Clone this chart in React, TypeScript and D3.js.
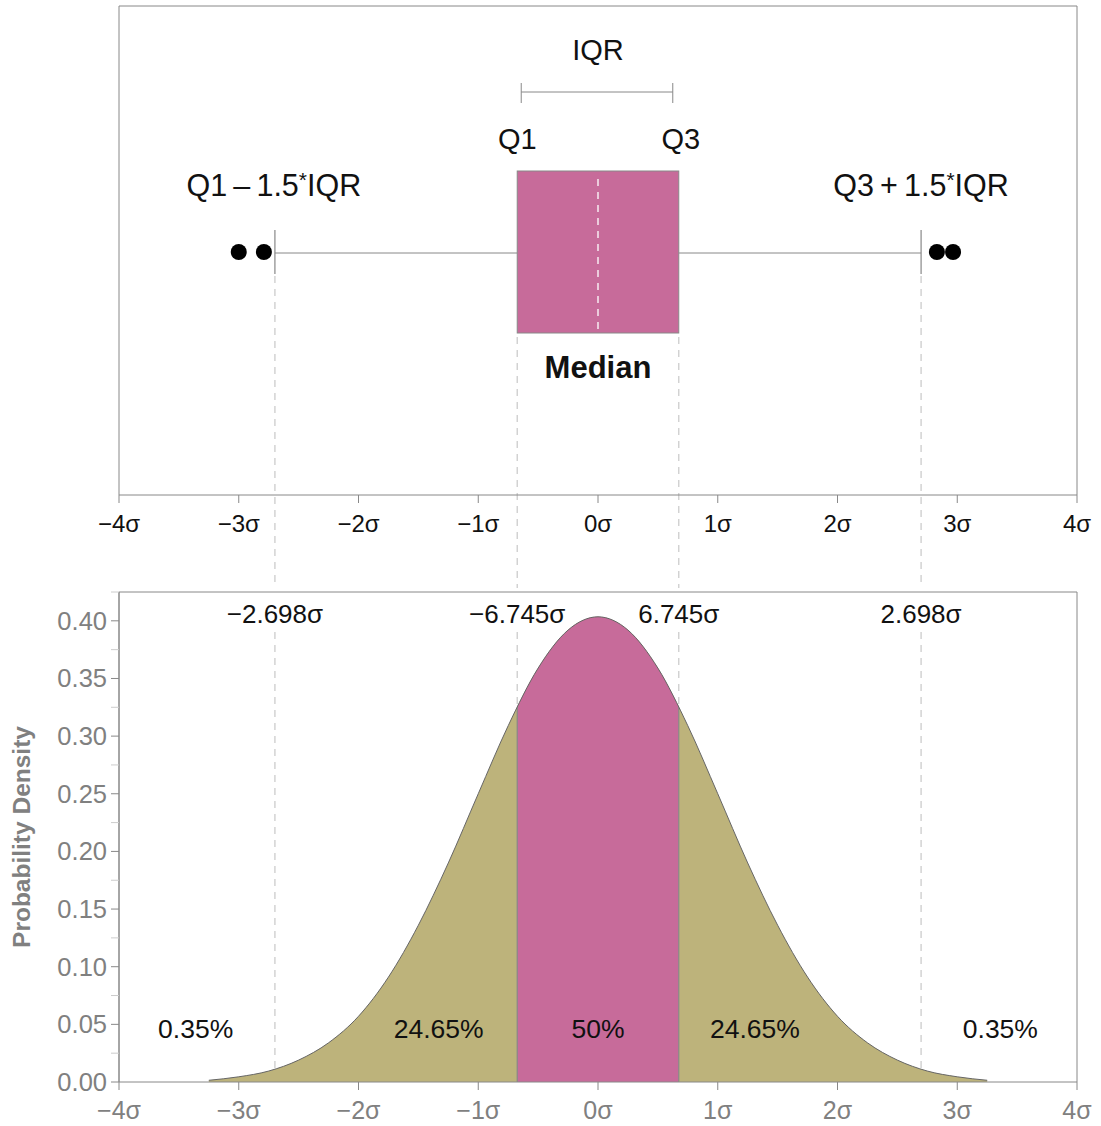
import React from "react";
import * as d3 from "d3";

// ---- data ----
const sigmaTicks = [-4, -3, -2, -1, 0, 1, 2, 3, 4];
const densityTicks = [0, 0.05, 0.1, 0.15, 0.2, 0.25, 0.3, 0.35, 0.4];
const densityMinorTicks = [0.025, 0.075, 0.125, 0.175, 0.225, 0.275, 0.325, 0.375, 0.425];
const curveX = [-3.25, -3, -2.75, -2.5, -2.25, -2, -1.75, -1.5, -1.25, -1, -0.75, -0.5, -0.25, 0, 0.25, 0.5, 0.75, 1, 1.25, 1.5, 1.75, 2, 2.25, 2.5, 2.75, 3, 3.25];
const curveY = [0.0015, 0.0045, 0.0095, 0.019, 0.034, 0.057, 0.091, 0.136, 0.19, 0.25, 0.309, 0.359, 0.392, 0.4035, 0.392, 0.359, 0.309, 0.25, 0.19, 0.136, 0.091, 0.057, 0.034, 0.019, 0.0095, 0.0045, 0.0015];
const q1 = -0.6745;
const median = 0;
const q3 = 0.6745;
const whiskerLow = -2.698;
const whiskerHigh = 2.698;
const outliers = [-3.0, -2.79, 2.83, 2.965];
const markerX = [-2.698, -0.6745, 0.6745, 2.698];
const markerLabels = ["\u22122.698\u03c3", "\u22126.745\u03c3", "6.745\u03c3", "2.698\u03c3"];
const pctX = [-3.36, -1.33, 0, 1.31, 3.36];
const pctLabels = ["0.35%", "24.65%", "50%", "24.65%", "0.35%"];

const W = 1101;
const H = 1126;
const L = 119;
const R = 1077;
const topT = 6;
const topB = 495;
const botT = 592;
const botB = 1082;
const boxTop = 171;
const boxBot = 333;
const boxMid = 253;

const FONT = "'Liberation Sans', Arial, Helvetica, sans-serif";
const PINK = "#c76b9a";
const OLIVE = "#bdb37b";
const FRAME = "#888888";
const DASH = "#cccccc";

function sigmaLabel(v: number) {
  return (v < 0 ? "\u2212" + Math.abs(v) : String(v)) + "\u03c3";
}

export default function App() {
  const x = d3.scaleLinear().domain([-4, 4]).range([L, R]);
  const y = d3.scaleLinear().domain([0, 0.425]).range([botB, botT]);
  const pts = curveX.map((v, i) => [v, curveY[i]] as [number, number]);
  const area = d3
    .area<[number, number]>()
    .x((d) => x(d[0]))
    .y0(y(0))
    .y1((d) => y(d[1]))
    .curve(d3.curveMonotoneX)(pts) as string;
  const line = d3
    .line<[number, number]>()
    .x((d) => x(d[0]))
    .y((d) => y(d[1]))
    .curve(d3.curveMonotoneX)(pts) as string;

  return (
    <svg
      width={W}
      height={H}
      style={{ position: "absolute", left: 0, top: 0, background: "#fff" }}
      fontFamily={FONT}
    >
      <defs>
        <clipPath id="areaClip">
          <path d={area} />
        </clipPath>
        <clipPath id="iqrClip">
          <rect x={x(q1)} y={botT} width={x(q3) - x(q1)} height={botB - botT} />
        </clipPath>
      </defs>

      {/* ---- top panel frame ---- */}
      <path
        d={`M${L},${topB}V${topT}H${R}V${topB}`}
        fill="none"
        stroke={FRAME}
        strokeWidth={1}
      />

      {/* dashed guide lines */}
      {[whiskerLow, whiskerHigh].map((v, i) => (
        <g key={"dw" + i}>
          <line x1={x(v)} x2={x(v)} y1={276} y2={588} stroke={DASH} strokeWidth={1.3} strokeDasharray="7,6" />
          <line x1={x(v)} x2={x(v)} y1={632} y2={botB} stroke={DASH} strokeWidth={1.3} strokeDasharray="7,6" />
        </g>
      ))}
      {[q1, q3].map((v, i) => (
        <g key={"dq" + i}>
          <line x1={x(v)} x2={x(v)} y1={boxBot + 4} y2={588} stroke={DASH} strokeWidth={1.3} strokeDasharray="7,6" />
          <line x1={x(v)} x2={x(v)} y1={632} y2={botB} stroke={DASH} strokeWidth={1.3} strokeDasharray="7,6" />
        </g>
      ))}

      {/* whiskers */}
      <line x1={x(whiskerLow)} x2={x(q1)} y1={boxMid} y2={boxMid} stroke={FRAME} strokeWidth={1} />
      <line x1={x(q3)} x2={x(whiskerHigh)} y1={boxMid} y2={boxMid} stroke={FRAME} strokeWidth={1} />
      {[whiskerLow, whiskerHigh].map((v, i) => (
        <line key={"cap" + i} x1={x(v)} x2={x(v)} y1={230} y2={274} stroke={FRAME} strokeWidth={1.2} />
      ))}

      {/* box */}
      <rect
        x={x(q1)}
        y={boxTop}
        width={x(q3) - x(q1)}
        height={boxBot - boxTop}
        fill={PINK}
        stroke={FRAME}
        strokeWidth={1}
      />
      <line
        x1={x(median)}
        x2={x(median)}
        y1={boxTop + 8}
        y2={boxBot - 4}
        stroke="#ffffff"
        strokeWidth={1.3}
        strokeDasharray="7,6"
      />

      {/* outliers */}
      {outliers.map((v, i) => (
        <circle key={"o" + i} cx={x(v)} cy={boxMid - 1} r={8} fill="#000" />
      ))}

      {/* IQR bracket */}
      <line x1={x(q1) + 4} x2={x(q3) - 6} y1={92} y2={92} stroke={FRAME} strokeWidth={1} />
      <line x1={x(q1) + 4} x2={x(q1) + 4} y1={83} y2={103} stroke={FRAME} strokeWidth={1} />
      <line x1={x(q3) - 6} x2={x(q3) - 6} y1={83} y2={103} stroke={FRAME} strokeWidth={1} />

      {/* annotations */}
      <text x={x(median)} y={60} textAnchor="middle" fontSize={29} fill="#111">IQR</text>
      <text x={x(q1)} y={149} textAnchor="middle" fontSize={29} fill="#111">Q1</text>
      <text x={x(q3) + 2} y={149} textAnchor="middle" fontSize={29} fill="#111">Q3</text>
      <text x={x(whiskerLow) - 1} y={196} textAnchor="middle" fontSize={30.5} fill="#111">
        Q1{"\u2009"}–{"\u2009"}1.5<tspan fontSize={21} dy={-9}>*</tspan>
        <tspan dy={9}>IQR</tspan>
      </text>
      <text x={x(whiskerHigh)} y={196} textAnchor="middle" fontSize={30.5} fill="#111">
        Q3{"\u2009"}+{"\u2009"}1.5<tspan fontSize={21} dy={-9}>*</tspan>
        <tspan dy={9}>IQR</tspan>
      </text>
      <text x={x(median)} y={378} textAnchor="middle" fontSize={31} fontWeight="bold" fill="#111">
        Median
      </text>

      {/* top axis */}
      <line x1={L} x2={R} y1={topB} y2={topB} stroke={FRAME} strokeWidth={1} />
      {sigmaTicks.map((t) => (
        <g key={"tt" + t}>
          <line x1={x(t)} x2={x(t)} y1={topB} y2={topB + 8} stroke={FRAME} strokeWidth={1} />
          <text x={x(t)} y={topB + 37} textAnchor="middle" fontSize={24} fill="#111">
            {sigmaLabel(t)}
          </text>
        </g>
      ))}

      {/* ---- bottom panel ---- */}
      <path d={area} fill={OLIVE} />
      <path d={area} fill={PINK} clipPath="url(#iqrClip)" />
      <g clipPath="url(#areaClip)">
        {[q1, q3].map((v, i) => (
          <line key={"qe" + i} x1={x(v)} x2={x(v)} y1={botT} y2={botB} stroke={FRAME} strokeWidth={1.2} />
        ))}
      </g>
      <path d={line} fill="none" stroke="#666" strokeWidth={1} />

      <path d={`M${L},${botB}V${botT}H${R}V${botB}`} fill="none" stroke={FRAME} strokeWidth={1} />

      {markerX.map((v, i) => (
        <text key={"ml" + i} x={x(v)} y={623} textAnchor="middle" fontSize={26} fill="#111">
          {markerLabels[i]}
        </text>
      ))}
      {pctX.map((v, i) => (
        <text key={"pl" + i} x={x(v)} y={1038} textAnchor="middle" fontSize={26.5} fill="#111">
          {pctLabels[i]}
        </text>
      ))}

      {/* bottom x axis */}
      <line x1={L} x2={R} y1={botB} y2={botB} stroke={FRAME} strokeWidth={1} />
      {sigmaTicks.map((t) => (
        <g key={"bt" + t}>
          <line x1={x(t)} x2={x(t)} y1={botB} y2={botB + 8} stroke={FRAME} strokeWidth={1} />
          <text x={x(t)} y={botB + 37} textAnchor="middle" fontSize={25} fill="#808080">
            {sigmaLabel(t)}
          </text>
        </g>
      ))}

      {/* y axis */}
      <line x1={L} x2={L} y1={botT} y2={botB} stroke={FRAME} strokeWidth={1} />
      {densityMinorTicks.map((t) => (
        <line key={"mt" + t} x1={L - 8} x2={L} y1={y(t)} y2={y(t)} stroke="#cccccc" strokeWidth={1} />
      ))}
      {densityTicks.map((t) => (
        <g key={"yt" + t}>
          <line x1={L - 8} x2={L} y1={y(t)} y2={y(t)} stroke={FRAME} strokeWidth={1} />
          <text x={L - 12} y={y(t) + 9} textAnchor="end" fontSize={25.5} fill="#808080">
            {d3.format(".2f")(t)}
          </text>
        </g>
      ))}
      <text
        transform={`translate(30,${(botT + botB) / 2}) rotate(-90)`}
        textAnchor="middle"
        fontSize={24.5}
        fontWeight="bold"
        fill="#808080"
      >
        Probability Density
      </text>
    </svg>
  );
}
